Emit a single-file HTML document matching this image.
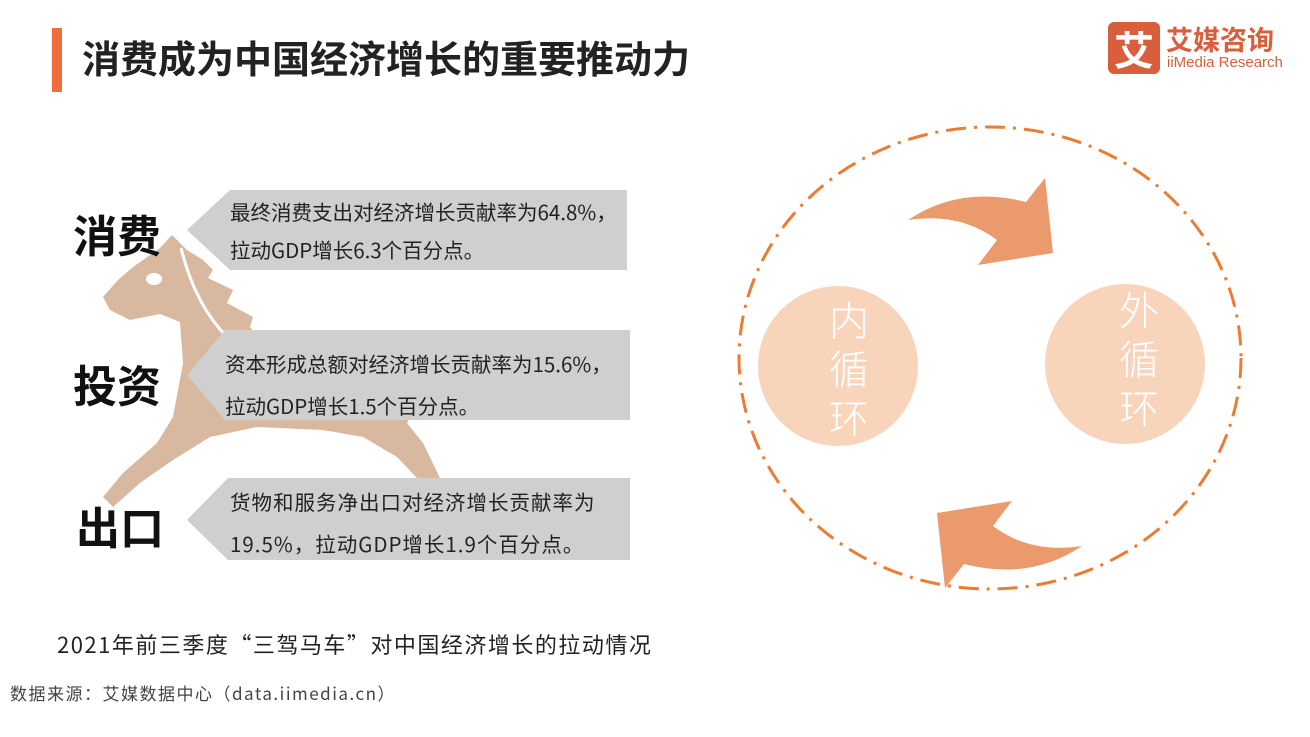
<!DOCTYPE html>
<html><head><meta charset="utf-8"><style>
body{margin:0;width:1310px;height:737px;background:#fff;overflow:hidden;position:relative;font-family:"Noto Sans CJK SC","Liberation Sans",sans-serif;}
.a{position:absolute;white-space:nowrap}
</style></head><body>
<svg width="1310" height="737" style="position:absolute;left:0;top:0">
<rect x="52" y="28" width="10" height="64" fill="#f26b3a"/>
<path d="M172 235 L187 250 L203 260 L213 270 L208 278 L233 290 L227 303 L253 317 L250 327 L262 342 L300 345 L413 338 L425 360 L420 400 L407 423 L423 443 L440 478 L417 478 L397 457 L363 437 L323 430 L257 427 L210 437 L173 460 L140 483 L113 507 L103 497 L123 473 L157 443 L173 417 L183 363 L180 322 L160 314 L130 320 L110 310 L103 297 L118 280 L133 267 L160 248 Z" fill="#d9b8a0"/>
<path d="M181 248 Q195 305 228 338" fill="none" stroke="#fff" stroke-width="3"/>
<ellipse cx="154" cy="279" rx="8" ry="6" fill="#fff"/>
<path d="M187 230 L230 190 L627 190 L627 270 L230 270 Z" fill="#cfcfcf"/>
<path d="M187 375 L225 330 L630 330 L630 420 L225 420 Z" fill="#cfcfcf"/>
<path d="M187 520 L228 478 L630 478 L630 560 L228 560 Z" fill="#cfcfcf"/>
<ellipse cx="990" cy="358" rx="251" ry="231" fill="none" stroke="#ec7c32" stroke-width="3" stroke-dasharray="20 8 3 8"/>
<circle cx="838" cy="366" r="80" fill="#f8d4bb"/>
<circle cx="1125" cy="364" r="80" fill="#f8d4bb"/>
<path id="ar" d="M908 220 Q960 185 1026 202 L1045 178 L1053 253 L978 265 L997 240 Q960 212 908 220 Z" fill="#ea9a6c"/>
<use href="#ar" transform="rotate(180 995 383)"/>
</svg>
<div class="a" style="left:82px;top:33px;font-size:38px;font-weight:bold;color:#222;line-height:48px">消费成为中国经济增长的重要推动力</div>
<div class="a" style="left:1108px;top:22px;width:52px;height:52px;background:#d95f3c;border-radius:6px;color:#fff;font-size:40px;font-weight:bold;text-align:center;line-height:52px">艾</div>
<div class="a" style="left:1166px;top:20px;font-size:27px;font-weight:bold;color:#d95f3c;line-height:38px">艾媒咨询</div>
<div class="a" style="left:1167px;top:54px;font-size:15px;color:#d95f3c;font-family:'Liberation Sans',sans-serif">iiMedia Research</div>
<div class="a" style="left:73px;top:205px;font-size:44px;font-weight:bold;color:#111;line-height:56px">消费</div>
<div class="a" style="left:73px;top:355px;font-size:44px;font-weight:bold;color:#111;line-height:56px">投资</div>
<div class="a" style="left:76px;top:497px;font-size:44px;font-weight:bold;color:#111;line-height:56px">出口</div>
<div class="a" style="left:230px;top:192px;font-size:20.5px;line-height:38px;color:#222">最终消费支出对经济增长贡献率为64.8%，<br>拉动GDP增长6.3个百分点。</div>
<div class="a" style="left:225px;top:342px;font-size:20.5px;line-height:42px;color:#222">资本形成总额对经济增长贡献率为15.6%，<br>拉动GDP增长1.5个百分点。</div>
<div class="a" style="left:230px;top:480px;font-size:20.5px;line-height:42px;color:#222;letter-spacing:1px">货物和服务净出口对经济增长贡献率为<br>19.5%，拉动GDP增长1.9个百分点。</div>
<div class="a" style="left:829px;top:294px;font-size:40px;font-weight:300;line-height:49px;color:#fff;width:42px;white-space:normal">内循环</div>
<div class="a" style="left:1119px;top:284px;font-size:40px;font-weight:300;line-height:49px;color:#fff;width:42px;white-space:normal">外循环</div>
<div class="a" style="left:57px;top:628px;font-size:22px;color:#222;letter-spacing:1.5px">2021年前三季度“三驾马车”对中国经济增长的拉动情况</div>
<div class="a" style="left:10px;top:680px;font-size:17px;color:#444;letter-spacing:1.5px">数据来源：艾媒数据中心（data.iimedia.cn）</div>
</body></html>
